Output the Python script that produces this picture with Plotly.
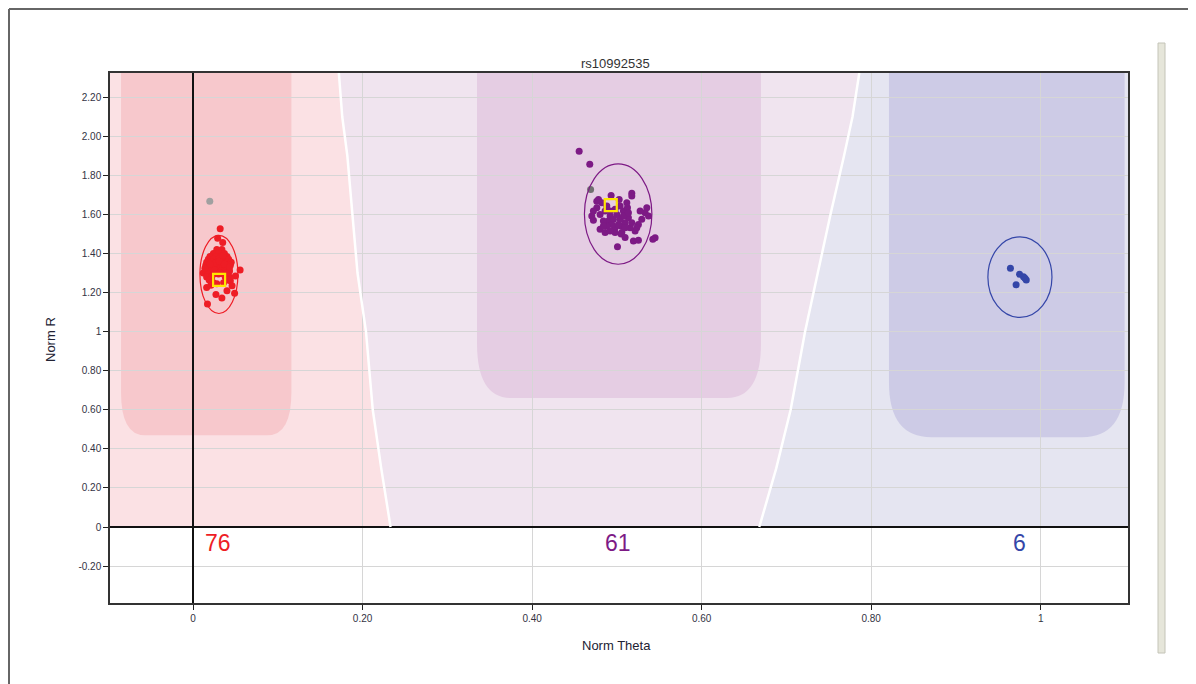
import plotly.graph_objects as go

# ---------------- data ----------------
title_text = "rs10992535"
x_ticks = [0, 0.2, 0.4, 0.6, 0.8, 1.0]
x_ticktext = ["0", "0.20", "0.40", "0.60", "0.80", "1"]
y_ticks = [-0.2, 0, 0.2, 0.4, 0.6, 0.8, 1.0, 1.2, 1.4, 1.6, 1.8, 2.0, 2.2]
y_ticktext = ["-0.20", "0", "0.20", "0.40", "0.60", "0.80", "1", "1.20", "1.40", "1.60", "1.80", "2.00", "2.20"]

# AA cluster (red), 76 samples
aa_theta = [0.032, 0.029, 0.035, 0.0555, 0.017, 0.049, 0.034, 0.016, 0.044, 0.021, 0.040, 0.027, 0.012, 0.050,
            0.028, 0.034,
            0.024, 0.030, 0.037,
            0.020, 0.027, 0.033, 0.040,
            0.018, 0.024, 0.030, 0.036, 0.042,
            0.016, 0.022, 0.028, 0.034, 0.040, 0.045,
            0.015, 0.021, 0.027, 0.033, 0.039, 0.044,
            0.017, 0.023, 0.029, 0.035, 0.041,
            0.015, 0.021, 0.027, 0.033, 0.038, 0.043,
            0.018, 0.024, 0.030, 0.036,
            0.016, 0.022, 0.038, 0.043,
            0.019, 0.041,
            0.024, 0.036,
            0.026, 0.031, 0.037, 0.025, 0.031, 0.020, 0.035, 0.043, 0.014, 0.039, 0.028, 0.046, 0.022]
aa_r = [1.527, 1.478, 1.456, 1.315, 1.141, 1.197, 1.172, 1.226, 1.260, 1.238, 1.210, 1.190, 1.300, 1.285,
        1.420, 1.420,
        1.400, 1.400, 1.400,
        1.385, 1.385, 1.385, 1.385,
        1.370, 1.370, 1.370, 1.370, 1.370,
        1.355, 1.355, 1.355, 1.355, 1.355, 1.355,
        1.340, 1.340, 1.340, 1.340, 1.340, 1.340,
        1.325, 1.325, 1.325, 1.325, 1.325,
        1.310, 1.310, 1.310, 1.310, 1.310, 1.310,
        1.295, 1.295, 1.295, 1.295,
        1.280, 1.280, 1.280, 1.280,
        1.265, 1.265,
        1.250, 1.250,
        1.350, 1.360, 1.345, 1.315, 1.300, 1.345, 1.390, 1.330, 1.325, 1.300, 1.245, 1.235, 1.255]

# AB cluster (purple), 61 samples
ab_theta = [0.4555, 0.468, 0.5176, 0.5176, 0.4763, 0.4932, 0.5027, 0.4822, 0.4881, 0.4704,
            0.4723, 0.4802, 0.4861, 0.4979, 0.5058, 0.5046, 0.5097, 0.5136, 0.5077, 0.4999,
            0.4920, 0.4900, 0.4959, 0.5038, 0.5125, 0.5353, 0.5333, 0.5373, 0.5294, 0.5254,
            0.5235, 0.5215, 0.5195, 0.5254, 0.5451, 0.5424, 0.5007, 0.5050, 0.4802, 0.4861,
            0.5117, 0.5156, 0.4979, 0.4940, 0.5018, 0.5097, 0.4881, 0.4841, 0.4763, 0.4783,
            0.5077, 0.5038, 0.4920, 0.5136, 0.5274, 0.5097, 0.4841, 0.4979, 0.4920, 0.5176,
            0.4723]
ab_r = [1.923, 1.857, 1.709, 1.694, 1.668, 1.697, 1.677, 1.660, 1.643, 1.592,
        1.570, 1.524, 1.507, 1.532, 1.507, 1.541, 1.558, 1.583, 1.617, 1.600,
        1.592, 1.566, 1.575, 1.575, 1.634, 1.634, 1.609, 1.592, 1.575, 1.549,
        1.532, 1.515, 1.464, 1.468, 1.481, 1.473, 1.434, 1.500, 1.600, 1.617,
        1.660, 1.532, 1.626, 1.549, 1.549, 1.532, 1.541, 1.566, 1.634, 1.677,
        1.592, 1.643, 1.617, 1.609, 1.617, 1.482, 1.541, 1.507, 1.515, 1.558,
        1.617]

# BB cluster (blue), 6 samples
bb_theta = [0.9643, 0.9750, 0.9797, 0.9830, 0.9710, 0.9815]
bb_r = [1.325, 1.294, 1.281, 1.265, 1.240, 1.273]

# no-call samples (grey)
nc_theta = [0.0197, 0.469]
nc_r = [1.668, 1.728]

# cluster ellipses: centre theta, centre R, half width, half height
ell_theta = [0.0305, 0.5015, 0.9755]
ell_r = [1.293, 1.602, 1.279]
ell_w = [0.0224, 0.0398, 0.0378]
ell_h = [0.200, 0.257, 0.206]

# cluster mean markers (yellow squares)
mean_theta = [0.0307, 0.4928]
mean_r = [1.265, 1.648]

# genotype counts
count_labels = ["76", "61", "6"]
count_theta = [0.0295, 0.5015, 0.975]
count_r = [-0.082, -0.082, -0.082]

# call-region boundaries (theta at given R)
bound_r = [2.324, 2.1, 1.9, 1.6, 1.3, 1.0, 0.6, 0.3, 0.0]
left_bound = [0.172, 0.176, 0.182, 0.188, 0.194, 0.204, 0.212, 0.222, 0.233]
right_bound = [0.786, 0.778, 0.768, 0.752, 0.737, 0.722, 0.705, 0.688, 0.668]

# inner (high-confidence) regions
core_t0 = [-0.085, 0.335, 0.821]
core_t1 = [0.116, 0.670, 1.099]
core_rb = [0.47, 0.66, 0.46]
core_rx = [0.028, 0.040, 0.050]
core_ry = [0.22, 0.28, 0.28]

# ---------------- styling ----------------
X_RANGE = [-0.098, 1.103]
Y_RANGE = [-0.389, 2.324]
light_cols = ["#fbe1e4", "#f0e4ef", "#e5e5f1"]
core_cols = ["#f7c8cc", "#e5cde3", "#cdcbe6"]
clu_cols = ["#ee1d25", "#7d1a85", "#3446a8"]
FONT = "Liberation Sans, Arial, sans-serif"

# the page body adds an 8px offset; the figure is sized so the plot lands where the reference has it
OFF = 8
PL, PT, PW, PH = 110, 73, 1018, 530   # plot box in page pixels


def px_x(px):
    return (px - PL) / PW


def px_y(py):
    return (PT + PH - py) / PH


shapes = []


def poly_path(xs, ys):
    p = "M %f %f" % (xs[0], ys[0])
    for x, y in zip(xs[1:], ys[1:]):
        p += " L %f %f" % (x, y)
    return p + " Z"


top = Y_RANGE[1]
# light regions
shapes.append(dict(type="path", path=poly_path([X_RANGE[0]] + left_bound + [X_RANGE[0]], [top] + bound_r + [0]),
                   fillcolor=light_cols[0], line=dict(width=0), layer="below", xref="x", yref="y"))
shapes.append(dict(type="path", path=poly_path(left_bound + right_bound[::-1], bound_r + bound_r[::-1]),
                   fillcolor=light_cols[1], line=dict(width=0), layer="below", xref="x", yref="y"))
shapes.append(dict(type="path", path=poly_path(right_bound + [X_RANGE[1], X_RANGE[1]], bound_r + [0, top]),
                   fillcolor=light_cols[2], line=dict(width=0), layer="below", xref="x", yref="y"))

# core regions (rounded bottom corners)
for t0, t1, rb, rx, ry, col in zip(core_t0, core_t1, core_rb, core_rx, core_ry, core_cols):
    p = ("M %f %f L %f %f Q %f %f %f %f L %f %f Q %f %f %f %f L %f %f Z"
         % (t0, top, t0, rb + ry, t0, rb, t0 + rx, rb, t1 - rx, rb, t1, rb, t1, rb + ry, t1, top))
    shapes.append(dict(type="path", path=p, fillcolor=col, line=dict(width=0), layer="below",
                       xref="x", yref="y"))

# cluster ellipses
for ct, cr, w, h, col in zip(ell_theta, ell_r, ell_w, ell_h, clu_cols):
    shapes.append(dict(type="circle", xref="x", yref="y", x0=ct - w, x1=ct + w, y0=cr - h, y1=cr + h,
                       line=dict(color=col, width=1.2), fillcolor="rgba(0,0,0,0)", layer="above"))

# window frame decorations (paper coords)
shapes.append(dict(type="line", xref="paper", yref="paper", x0=px_x(9), x1=px_x(1200), y0=px_y(9), y1=px_y(9),
                   line=dict(color="#666666", width=2)))
shapes.append(dict(type="line", xref="paper", yref="paper", x0=px_x(9), x1=px_x(9), y0=px_y(9), y1=px_y(690),
                   line=dict(color="#666666", width=2)))
shapes.append(dict(type="rect", xref="paper", yref="paper", x0=px_x(1158), x1=px_x(1165), y0=px_y(653), y1=px_y(43),
                   fillcolor="#e6e6da", line=dict(color="#c4c4b8", width=1)))

fig = go.Figure()

# white separators between call regions
for b in [left_bound, right_bound]:
    fig.add_trace(go.Scatter(x=b, y=bound_r, mode="lines", line=dict(color="white", width=2.5),
                             hoverinfo="skip", showlegend=False))

fig.add_trace(go.Scatter(x=nc_theta[:1], y=nc_r[:1], mode="markers",
                         marker=dict(color="#a0a0a0", size=7), showlegend=False))
fig.add_trace(go.Scatter(x=nc_theta[1:], y=nc_r[1:], mode="markers",
                         marker=dict(color="#707070", size=7), showlegend=False))
for th, rr, col in [(aa_theta, aa_r, clu_cols[0]), (ab_theta, ab_r, clu_cols[1]), (bb_theta, bb_r, clu_cols[2])]:
    fig.add_trace(go.Scatter(x=th, y=rr, mode="markers", marker=dict(color=col, size=7, line=dict(width=0)),
                             showlegend=False))

fig.add_trace(go.Scatter(x=mean_theta, y=mean_r, mode="markers",
                         marker=dict(symbol="square-open", size=12, color="#ffe600",
                                     line=dict(width=2.2, color="#ffe600")),
                         showlegend=False))

annotations = []
for txt, ct, cr, col in zip(count_labels, count_theta, count_r, clu_cols):
    annotations.append(dict(x=ct, y=cr, xref="x", yref="y", text=txt, showarrow=False,
                            xanchor="center", yanchor="middle",
                            font=dict(size=23, color=col, family=FONT)))
annotations.append(dict(x=px_x(615), y=px_y(64), xref="paper", yref="paper", text=title_text, showarrow=False,
                        xanchor="center", yanchor="middle",
                        font=dict(size=13, color="#333333", family=FONT)))
annotations.append(dict(x=px_x(616), y=px_y(645), xref="paper", yref="paper", text="Norm Theta",
                        xanchor="center", yanchor="middle",
                        showarrow=False, font=dict(size=13, color="#222233", family=FONT)))
annotations.append(dict(x=px_x(50), y=px_y(340), xref="paper", yref="paper", text="Norm R",
                        xanchor="center", yanchor="middle",
                        showarrow=False, textangle=-90, font=dict(size=13, color="#222233", family=FONT)))

fig.update_layout(
    width=1196 - OFF, height=684 - OFF,
    margin=dict(l=PL - OFF, r=68, t=PT - OFF, b=81, autoexpand=False),
    paper_bgcolor="white", plot_bgcolor="white",
    shapes=shapes, annotations=annotations,
    showlegend=False,
    font=dict(family=FONT),
)
fig.update_xaxes(range=X_RANGE, tickvals=x_ticks, ticktext=x_ticktext,
                 showgrid=True, gridcolor="#d6d6d6", gridwidth=1,
                 zeroline=True, zerolinecolor="#111111", zerolinewidth=1.5,
                 showline=True, mirror=True, linecolor="#333333", linewidth=1.5,
                 ticks="outside", ticklen=5, tickcolor="#222222",
                 tickfont=dict(size=10, color="#333344", family=FONT))
fig.update_yaxes(range=Y_RANGE, tickvals=y_ticks, ticktext=y_ticktext,
                 showgrid=True, gridcolor="#d6d6d6", gridwidth=1,
                 zeroline=True, zerolinecolor="#111111", zerolinewidth=1.5,
                 showline=True, mirror=True, linecolor="#333333", linewidth=1.5,
                 ticks="outside", ticklen=5, tickcolor="#222222",
                 tickfont=dict(size=10, color="#333344", family=FONT))

fig.write_html("out.html")
